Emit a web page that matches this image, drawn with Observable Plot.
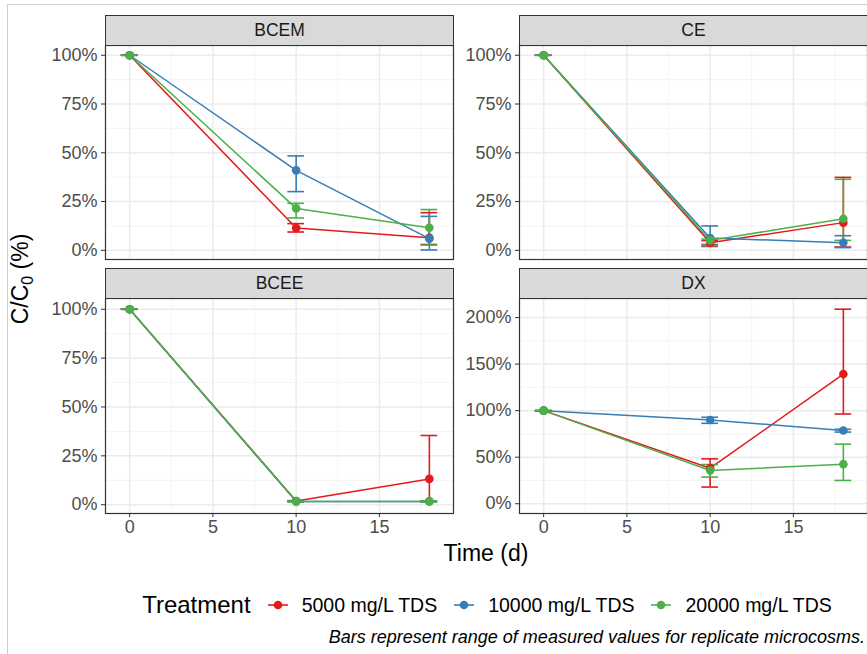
<!DOCTYPE html>
<html><head><meta charset="utf-8">
<script src="https://cdn.jsdelivr.net/npm/d3@7"></script>
<script src="https://cdn.jsdelivr.net/npm/@observablehq/plot@0.6"></script>
<style>
body{margin:0;background:#fff;font-family:"Liberation Sans",Arial,sans-serif;}
#root{position:relative;width:867px;height:654px;overflow:hidden;background:#fff;}
#frame{position:absolute;left:7px;top:4px;width:960px;height:760px;border:1.5px solid #cfcfcf;}
.strip{position:absolute;height:31px;width:349px;background:#d9d9d9;border:1px solid #333;box-sizing:border-box;font-size:17.5px;color:#1a1a1a;text-align:center;line-height:29px;}
.pan{position:absolute;}
#ytitle{position:absolute;left:22px;top:279px;transform:translate(-50%,-50%) rotate(-90deg);font-size:23px;color:#000;white-space:nowrap;}
#xtitle{position:absolute;left:486px;top:553px;transform:translate(-50%,-50%);font-size:23px;color:#000;white-space:nowrap;}
#legend{position:absolute;left:0;width:974px;top:590px;height:30px;display:flex;justify-content:center;align-items:center;white-space:nowrap;}
#legend .ttl{font-size:24px;color:#000;margin-right:16px;}
#legend .lab{font-size:19.5px;color:#000;margin-left:13px;margin-right:16px;}
#legend .lab:last-child{margin-right:0;}
#caption{position:absolute;right:2px;top:627px;font-size:18px;font-style:italic;color:#000;white-space:nowrap;}
</style></head>
<body><div id="root"><div id="frame"></div></div>
<script>
// ---- data ----
const times = [0, 10, 18];
const treatments = ["5000 mg/L TDS", "10000 mg/L TDS", "20000 mg/L TDS"];
const colors = ["#E41A1C", "#377EB8", "#4DAF4A"];
const panelNames = ["BCEM", "CE", "BCEE", "DX"];
// values ordered: [5000 x 3 times, 10000 x 3 times, 20000 x 3 times]
const BCEM_mean = [1.00, 0.114, 0.064,  1.00, 0.410, 0.060,  1.00, 0.215, 0.116];
const BCEM_lo   = [1.00, 0.094, 0.030,  1.00, 0.301, 0.002,  1.00, 0.166, 0.027];
const BCEM_hi   = [1.00, 0.137, 0.193,  1.00, 0.484, 0.174,  1.00, 0.241, 0.209];
const CE_mean   = [1.00, 0.039, 0.142,  1.00, 0.063, 0.039,  1.00, 0.051, 0.162];
const CE_lo     = [1.00, 0.020, 0.017,  1.00, 0.030, 0.014,  1.00, 0.024, 0.051];
const CE_hi     = [1.00, 0.050, 0.374,  1.00, 0.125, 0.075,  1.00, 0.058, 0.364];
const BCEE_mean = [1.00, 0.019, 0.132,  1.00, 0.017, 0.017,  1.00, 0.017, 0.017];
const BCEE_lo   = [1.00, 0.017, 0.017,  1.00, 0.015, 0.015,  1.00, 0.015, 0.015];
const BCEE_hi   = [1.00, 0.021, 0.354,  1.00, 0.019, 0.019,  1.00, 0.019, 0.019];
const DX_mean   = [1.00, 0.382, 1.393,  1.00, 0.900, 0.786,  1.00, 0.357, 0.425];
const DX_lo     = [1.00, 0.179, 0.964,  1.00, 0.864, 0.770,  1.00, 0.286, 0.250];
const DX_hi     = [1.00, 0.482, 2.090,  1.00, 0.929, 0.800,  1.00, 0.421, 0.640];
const xMajor = [0, 5, 10, 15];
const xMinor = [2.5, 7.5, 12.5, 17.5];
const yMajorPct = [0, 0.25, 0.5, 0.75, 1];
const yMinorPct = [0.125, 0.375, 0.625, 0.875];
const yMajorDX = [0, 0.5, 1, 1.5, 2];
const yMinorDX = [0.25, 0.75, 1.25, 1.75];

function rows(mean, lo, hi) {
  return treatments.flatMap((tr, i) => times.map((t, j) => ({tr, t, m: mean[i*3+j], lo: lo[i*3+j], hi: hi[i*3+j]})));
}

const root = document.getElementById("root");
const xDomain = [-1.45, 19.45];

function panel(name, data, yDomain, yMajor, yMinor, showX, left, top, h) {
  const ml = 60, mr = 4, mt = 4, mb = showX ? 34 : 4;
  const chart = Plot.plot({
    width: ml + 348 + mr, height: mt + h + mb,
    marginLeft: ml, marginRight: mr, marginTop: mt, marginBottom: mb,
    style: {fontFamily: "Liberation Sans, Arial, sans-serif", fontSize: "18px", background: "transparent", overflow: "visible"},
    x: {domain: xDomain, axis: null},
    y: {domain: yDomain, axis: null},
    color: {domain: treatments, range: colors},
    marks: [
      Plot.ruleX(xMinor, {stroke: "#f3f3f3", strokeWidth: 0.9}),
      Plot.ruleY(yMinor, {stroke: "#f3f3f3", strokeWidth: 0.9}),
      Plot.ruleX(xMajor, {stroke: "#ebebeb", strokeWidth: 1.5}),
      Plot.ruleY(yMajor, {stroke: "#ebebeb", strokeWidth: 1.5}),
      Plot.line(data, {x: "t", y: "m", z: "tr", stroke: "tr", strokeWidth: 1.5}),
      Plot.ruleX(data, {x: "t", y1: "lo", y2: "hi", stroke: "tr", strokeWidth: 1.6}),
      Plot.ruleY(data, {y: "lo", x1: d => d.t - 0.5, x2: d => d.t + 0.5, stroke: "tr", strokeWidth: 1.6}),
      Plot.ruleY(data, {y: "hi", x1: d => d.t - 0.5, x2: d => d.t + 0.5, stroke: "tr", strokeWidth: 1.6}),
      Plot.dot(data, {x: "t", y: "m", fill: "tr", r: 4.3}),
      Plot.frame({stroke: "#333", strokeWidth: 1.2}),
      Plot.axisY({ticks: yMajor, tickSize: 4, tickPadding: 4, tickFormat: d => Math.round(d * 100) + "%", stroke: "#333", fill: "#4d4d4d", label: null}),
      showX ? Plot.axisX({ticks: xMajor, tickSize: 4, tickPadding: 3, stroke: "#333", fill: "#4d4d4d", label: null}) : null
    ]
  });
  chart.classList.add("pan");
  chart.style.left = (left - ml) + "px";
  chart.style.top = (top - mt) + "px";
  root.appendChild(chart);
  const s = document.createElement("div");
  s.className = "strip";
  s.style.left = left + "px";
  s.style.top = (top - 30) + "px";
  s.textContent = name;
  root.appendChild(s);
}

panel(panelNames[0], rows(BCEM_mean, BCEM_lo, BCEM_hi), [-0.047, 1.05], yMajorPct, yMinorPct, false, 105, 45, 214);
panel(panelNames[1], rows(CE_mean, CE_lo, CE_hi), [-0.047, 1.05], yMajorPct, yMinorPct, false, 519, 45, 214);
panel(panelNames[2], rows(BCEE_mean, BCEE_lo, BCEE_hi), [-0.045, 1.055], yMajorPct, yMinorPct, true, 105, 298, 215);
panel(panelNames[3], rows(DX_mean, DX_lo, DX_hi), [-0.105, 2.205], yMajorDX, yMinorDX, true, 519, 298, 215);

// titles
const yt = document.createElement("div"); yt.id = "ytitle";
yt.innerHTML = "C/C<sub style='font-size:16px'>0</sub> (%)";
root.appendChild(yt);
const xt = document.createElement("div"); xt.id = "xtitle"; xt.textContent = "Time (d)";
root.appendChild(xt);

// legend
const lg = document.createElement("div"); lg.id = "legend";
const ttl = document.createElement("span"); ttl.className = "ttl"; ttl.textContent = "Treatment";
lg.appendChild(ttl);
treatments.forEach((tr, i) => {
  const ns = "http://www.w3.org/2000/svg";
  const svg = document.createElementNS(ns, "svg");
  svg.setAttribute("width", 22); svg.setAttribute("height", 22);
  const ln = document.createElementNS(ns, "line");
  ln.setAttribute("x1", 1); ln.setAttribute("x2", 21); ln.setAttribute("y1", 11); ln.setAttribute("y2", 11);
  ln.setAttribute("stroke", colors[i]); ln.setAttribute("stroke-width", 1.6);
  const c = document.createElementNS(ns, "circle");
  c.setAttribute("cx", 11); c.setAttribute("cy", 11); c.setAttribute("r", 4.3); c.setAttribute("fill", colors[i]);
  svg.appendChild(ln); svg.appendChild(c);
  lg.appendChild(svg);
  const lab = document.createElement("span"); lab.className = "lab"; lab.textContent = tr;
  lg.appendChild(lab);
});
root.appendChild(lg);

const cap = document.createElement("div"); cap.id = "caption";
cap.textContent = "Bars represent range of measured values for replicate microcosms.";
root.appendChild(cap);
</script>
</body></html>
